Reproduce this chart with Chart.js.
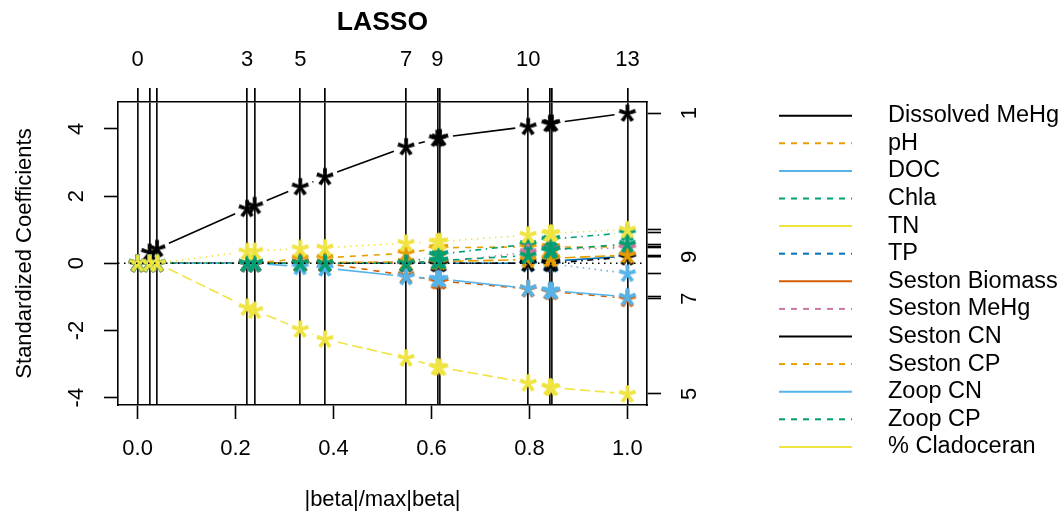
<!DOCTYPE html>
<html>
<head>
<meta charset="utf-8">
<title>LASSO</title>
<script src="https://cdn.jsdelivr.net/npm/chart.js@4.4.1/dist/chart.umd.min.js"></script>
<style>
  html, body { margin: 0; padding: 0; background: #fff; }
  #chart { display: block; }
</style>
</head>
<body>
<canvas id="chart" width="1063" height="518"></canvas>
<script>
// ── DATA ───────────────────────────────────────────────────────────────────────
// LARS/LASSO knots on the |beta|/max|beta| scale, and the df printed on top
const steps      = [0, 0.0245, 0.0397, 0.2235, 0.2390, 0.3322, 0.3825, 0.5482, 0.6120, 0.6175, 0.7974, 0.8417, 0.8458, 1.0];
const stepLabels = ['0', '', '', '3', '', '5', '', '7', '9', '', '10', '', '', '13'];
const xTicks = [0, 0.2, 0.4, 0.6, 0.8, 1.0];
const yTicks = [-4, -2, 0, 2, 4];

const varNames = ['Dissolved MeHg', 'pH', 'DOC', 'Chla', 'TN', 'TP', 'Seston Biomass',
                  'Seston MeHg', 'Seston CN', 'Seston CP', 'Zoop CN', 'Zoop CP', '% Cladoceran'];

// standardized coefficient of each variable at every knot
const dissolvedMeHg = [0, 0.33, 0.44, 1.63, 1.72, 2.28, 2.58, 3.47, 3.72, 3.74, 4.07, 4.16, 4.17, 4.47];
const pH            = [0, 0, 0, 0, 0, 0.14, 0.16, 0.30, 0.45, 0.46, 0.49, 0.48, 0.48, 0.49];
const doc           = [0, 0, 0, 0, 0, 0, 0, 0, 0, 0, 0, 0, -0.02, -0.30];
const chla          = [0, 0, 0, 0, 0, 0, 0, 0, 0.25, 0.27, 0.57, 0.70, 0.72, 0.91];
const tn            = [0, 0, 0, -1.31, -1.40, -1.96, -2.26, -2.82, -3.08, -3.10, -3.56, -3.68, -3.70, -3.89];
const tp            = [0, 0, 0, 0, 0, 0, 0, 0, 0, 0, 0, 0.05, 0.06, 0.21];
const sestonBiomass = [0, 0, 0, 0, 0, 0, 0, -0.36, -0.52, -0.53, -0.76, -0.83, -0.84, -1.05];
const sestonMeHg    = [0, 0, 0, 0, 0, 0, 0, 0, 0, 0.02, 0.33, 0.40, 0.41, 0.46];
const sestonCN      = [0, 0, 0, 0, 0, 0, 0, 0, 0, 0, 0, 0, 0, 0.19];
const sestonCP      = [0, 0, 0, 0, 0, 0, 0.02, 0.04, 0.05, 0.05, 0.11, 0.14, 0.15, 0.24];
const zoopCN        = [0, 0, 0, 0, 0, -0.10, -0.14, -0.40, -0.46, -0.47, -0.75, -0.81, -0.82, -1.00];
const zoopCP        = [0, 0, 0, 0, 0, 0, 0, 0, 0.07, 0.08, 0.23, 0.38, 0.40, 0.57];
const cladoceran    = [0, 0, 0, 0.35, 0.36, 0.44, 0.46, 0.60, 0.64, 0.645, 0.84, 0.89, 0.895, 1.00];

const coefPaths = [dissolvedMeHg, pH, doc, chla, tn, tp, sestonBiomass,
                   sestonMeHg, sestonCN, sestonCP, zoopCN, zoopCP, cladoceran];

// ── STYLE ──────────────────────────────────────────────────────────────────────
// Okabe-Ito palette, recycled every 8 columns like the R palette
const palette = ['#000000', '#E69F00', '#56B4E9', '#009E73', '#F0E442', '#0072B2', '#D55E00', '#CC79A7'];
// matplot lty 1:5 -> solid, dashed, dotted, dotdash, longdash
const ltys = [[], [6, 6], [1.5, 4.5], [1.5, 4.5, 6, 4.5], [10.5, 4.5]];

const X_MIN = -0.04, X_MAX = 1.04, Y_MIN = -4.22, Y_MAX = 4.80;
const GAP = 13;          // type = "b": blank space left around each symbol
const FONT = '"Liberation Sans", Arial, Helvetica, sans-serif';

Chart.defaults.font.family = FONT;
Chart.defaults.color = '#000';

const colorOf = i => palette[i % palette.length];
const dashOf  = i => ltys[i % ltys.length];

// pch = "*" rendered as a glyph, centred on its ink box
function asterisk(color) {
  const c = document.createElement('canvas');
  c.width = 24; c.height = 24;
  const g = c.getContext('2d');
  g.fillStyle = color;
  g.strokeStyle = color;
  g.lineWidth = 0.8;
  g.font = '46px ' + FONT;
  const m = g.measureText('*');
  const x = 12 - (m.actualBoundingBoxRight - m.actualBoundingBoxLeft) / 2;
  const y = 12 + (m.actualBoundingBoxAscent - m.actualBoundingBoxDescent) / 2;
  g.fillText('*', x, y);
  g.strokeText('*', x, y);
  return c;
}

// line pieces between knots, trimmed by GAP pixels at both ends
function gapped(chart, vals) {
  const xs = chart.scales.x, ys = chart.scales.y;
  const out = [];
  for (let k = 0; k < steps.length - 1; k++) {
    const x0 = xs.getPixelForValue(steps[k]),     y0 = ys.getPixelForValue(vals[k]);
    const x1 = xs.getPixelForValue(steps[k + 1]), y1 = ys.getPixelForValue(vals[k + 1]);
    const len = Math.hypot(x1 - x0, y1 - y0);
    if (len <= 2 * GAP) continue;
    const f = GAP / len;
    out.push({ x: xs.getValueForPixel(x0 + (x1 - x0) * f), y: ys.getValueForPixel(y0 + (y1 - y0) * f) });
    out.push({ x: xs.getValueForPixel(x1 - (x1 - x0) * f), y: ys.getValueForPixel(y1 - (y1 - y0) * f) });
    out.push({ x: steps[k + 1], y: null });
  }
  return out;
}

// ── DATASETS ───────────────────────────────────────────────────────────────────
const datasets = [];
coefPaths.forEach((vals, i) => {
  datasets.push({
    label: varNames[i] + ' path', data: [], showLine: true,
    borderColor: colorOf(i), borderWidth: 1.6, borderDash: dashOf(i),
    pointRadius: 0, order: 100 - 2 * i
  });
  datasets.push({
    label: varNames[i], data: steps.map((s, k) => ({ x: s, y: vals[k] })), showLine: false,
    pointStyle: asterisk(colorOf(i)), pointRadius: 7, order: 99 - 2 * i
  });
});
// abline(h = 0, lty = 3)
datasets.push({
  label: 'zero', data: [{ x: X_MIN, y: 0 }, { x: X_MAX, y: 0 }], showLine: true,
  borderColor: '#000', borderWidth: 1.6, borderDash: [1.5, 4.5], pointRadius: 0, order: 0
});

// ── PLUGINS ────────────────────────────────────────────────────────────────────
// y labels are parallel to the axis; right axis labels the final coefficients,
// dropping any that would collide with one already drawn
const rAxisText = {
  id: 'rAxisText',
  afterDraw(chart) {
    const { ctx, chartArea, scales: { y, y2 } } = chart;
    ctx.save();
    ctx.fillStyle = '#000';
    ctx.font = '22px ' + FONT;
    ctx.textAlign = 'center';
    ctx.textBaseline = 'middle';
    const vtext = (txt, x, py) => {
      ctx.save(); ctx.translate(x, py); ctx.rotate(-Math.PI / 2); ctx.fillText(txt, 0, 0); ctx.restore();
    };
    yTicks.forEach(v => vtext(String(v), chartArea.left - 41, y.getPixelForValue(v)));

    const finals = coefPaths.map(p => p[p.length - 1]);
    const idx = finals.map((v, i) => i).sort((a, b) => finals[a] - finals[b]);
    let last = null;
    idx.forEach(i => {
      const py = y2.getPixelForValue(finals[i]);
      if (last !== null && Math.abs(py - last) < 30) return;
      vtext(String(i + 1), chartArea.right + 43, py);
      last = py;
    });
    ctx.restore();
  }
};

// legend panel: lty alternates solid / dashed, colours follow the palette
const sideLegend = {
  id: 'sideLegend',
  afterDraw(chart) {
    const { ctx } = chart;
    ctx.save();
    ctx.font = '23.5px ' + FONT;
    ctx.textBaseline = 'middle';
    ctx.textAlign = 'left';
    varNames.forEach((name, i) => {
      const yy = 115.7 + i * 27.6;
      ctx.beginPath();
      ctx.strokeStyle = colorOf(i);
      ctx.lineWidth = 2;
      ctx.setLineDash(i % 2 ? [6, 6] : []);
      ctx.moveTo(779, yy);
      ctx.lineTo(852, yy);
      ctx.stroke();
      ctx.fillStyle = '#000';
      ctx.fillText(name, 888, yy);
    });
    ctx.restore();
  }
};

// ── CHART ──────────────────────────────────────────────────────────────────────
const edge = { color: '#000', width: 1.6 };
const tickGrid = { drawOnChartArea: false, tickLength: 14, tickWidth: 1.6, tickColor: '#000' };

const chart = new Chart(document.getElementById('chart'), {
  type: 'scatter',
  data: { datasets },
  options: {
    responsive: false, animation: false, events: [],
    layout: { padding: { left: 0, top: 0, bottom: 0, right: 356 }, autoPadding: false },
    plugins: {
      legend: { display: false },
      tooltip: { enabled: false },
      title: {
        display: true, text: 'LASSO', fullSize: false, color: '#000',
        font: { size: 26.5, weight: 'bold' }, padding: { top: 7, bottom: 7 }
      }
    },
    scales: {
      x: {
        type: 'linear', position: 'bottom', min: X_MIN, max: X_MAX,
        afterBuildTicks: s => { s.ticks = xTicks.map(v => ({ value: v })); },
        afterFit: s => { s.height = 113; },
        grid: tickGrid, border: edge,
        ticks: { font: { size: 22 }, padding: 17, maxRotation: 0, autoSkip: false, callback: v => v.toFixed(1) },
        title: { display: true, text: '|beta|/max|beta|', font: { size: 22 }, padding: { top: 0, bottom: 5 } }
      },
      x2: {
        type: 'linear', position: 'top', min: X_MIN, max: X_MAX, z: 1,
        afterBuildTicks: s => { s.ticks = steps.map(v => ({ value: v })); },
        afterFit: s => { s.height = 102 - (26.5 * 1.2 + 14); },
        // abline(v = knots) plus the top axis ticks
        grid: { drawOnChartArea: true, color: '#111', lineWidth: 1.7, tickLength: 14, tickColor: '#000' },
        border: edge,
        ticks: { font: { size: 22 }, padding: 15, maxRotation: 0, autoSkip: false, callback: (v, i) => stepLabels[i] }
      },
      y: {
        type: 'linear', position: 'left', min: Y_MIN, max: Y_MAX,
        afterBuildTicks: s => { s.ticks = yTicks.map(v => ({ value: v })); },
        afterFit: s => { s.width = 118; },
        grid: tickGrid, border: edge,
        ticks: { autoSkip: false, callback: () => '' },
        title: { display: true, text: 'Standardized Coefficients', font: { size: 22 }, padding: { top: 12, bottom: 0 } }
      },
      y2: {
        type: 'linear', position: 'right', min: Y_MIN, max: Y_MAX,
        afterBuildTicks: s => { s.ticks = coefPaths.map(p => ({ value: p[p.length - 1] })); },
        afterFit: s => { s.width = 60; },
        grid: tickGrid, border: edge,
        ticks: { autoSkip: false, callback: () => '' }
      }
    }
  },
  plugins: [rAxisText, sideLegend]
});

// the trimmed segments need pixel positions, so they are filled in once the scales exist
coefPaths.forEach((vals, i) => { chart.data.datasets[2 * i].data = gapped(chart, vals); });
chart.update('none');
</script>
</body>
</html>
